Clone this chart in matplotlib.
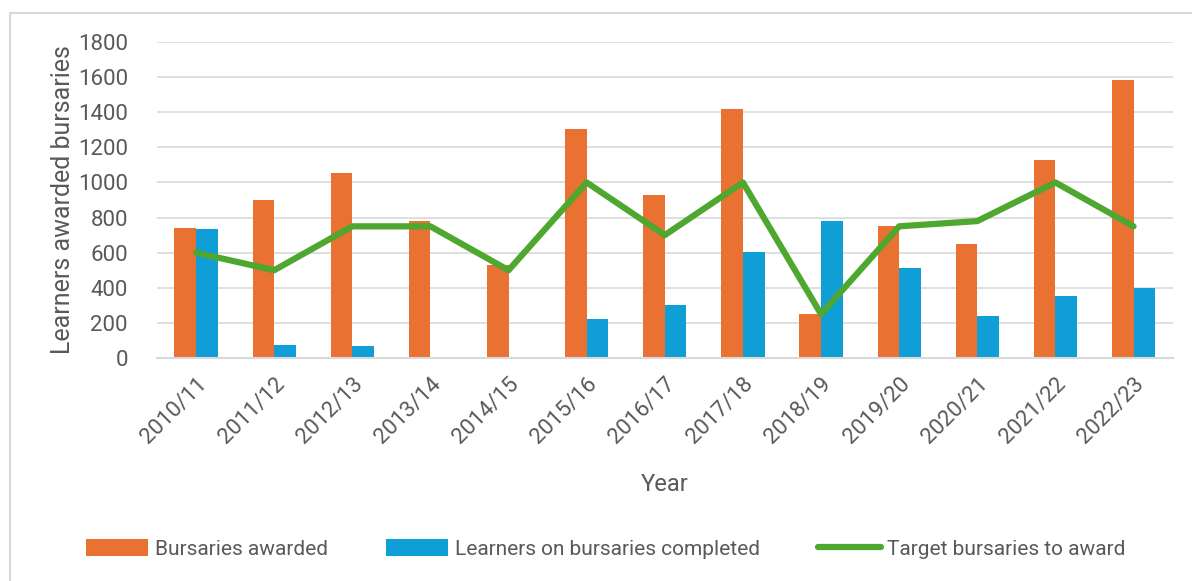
import numpy as np
import matplotlib.pyplot as plt
from matplotlib.patches import Rectangle

years = ['2010/11', '2011/12', '2012/13', '2013/14', '2014/15', '2015/16', '2016/17',
         '2017/18', '2018/19', '2019/20', '2020/21', '2021/22', '2022/23']
bursaries_awarded = [740, 902, 1056, 782, 530, 1307, 927, 1417, 253, 752, 647, 1126, 1583]
learners_completed = [733, 76, 70, 0, 0, 223, 302, 603, 782, 512, 238, 356, 401]
target_bursaries = [600, 500, 750, 750, 500, 1000, 700, 1000, 250, 750, 780, 1000, 750]

text_color = '#595959'
plt.rcParams['font.family'] = ['Roboto', 'DejaVu Sans']
plt.rcParams['text.color'] = text_color

fig = plt.figure(figsize=(11.92, 5.81), dpi=100)
ax = fig.add_axes([0.1317, 0.3838, 0.852, 0.5439])

# light frame round the chart area
fig.patches.append(Rectangle((10 / 1192, -0.1), 1.2, 1.1 - 13 / 581, transform=fig.transFigure,
                             fill=False, edgecolor='#D9D9D9', linewidth=1.5))

x = np.arange(len(years))
w = 0.277
b1 = ax.bar(x - w / 2, bursaries_awarded, w, color='#E97132', label='Bursaries awarded', zorder=2)
b2 = ax.bar(x + w / 2, learners_completed, w, color='#0F9ED5',
            label='Learners on bursaries completed', zorder=2)
ln, = ax.plot(x, target_bursaries, color='#4EA72E', linewidth=4.5, solid_capstyle='round',
              label='Target bursaries to award', zorder=3)

ax.set_xlim(-0.5, len(years) - 0.5)
ax.set_ylim(0, 1800)
ax.set_yticks(range(0, 1801, 200))
ax.grid(axis='y', color='#D9D9D9', linewidth=1.2, zorder=0)
for s in ['top', 'right', 'left']:
    ax.spines[s].set_visible(False)
ax.spines['bottom'].set_color('#D9D9D9')
ax.spines['bottom'].set_linewidth(1.5)
ax.tick_params(axis='both', length=0, labelsize=16, colors=text_color)
ax.tick_params(axis='y', pad=21)
ax.set_xticks(x)
ax.set_xticklabels(years, rotation=45, ha='right', rotation_mode='anchor')
ax.tick_params(axis='x', pad=11)

ax.set_ylabel('Learners awarded bursaries', fontsize=18, color=text_color, labelpad=2)
ax.set_xlabel('Year', fontsize=17, color=text_color, labelpad=18)

fig.legend([b1, b2, ln], [b1.get_label(), b2.get_label(), ln.get_label()],
           loc='center', bbox_to_anchor=(0.508, 0.055), ncol=3, frameon=False,
           fontsize=15, handlelength=3.0, handleheight=0.9, columnspacing=2.8,
           handletextpad=0.3, labelcolor=text_color)

fig.savefig('out.png', dpi=100)
